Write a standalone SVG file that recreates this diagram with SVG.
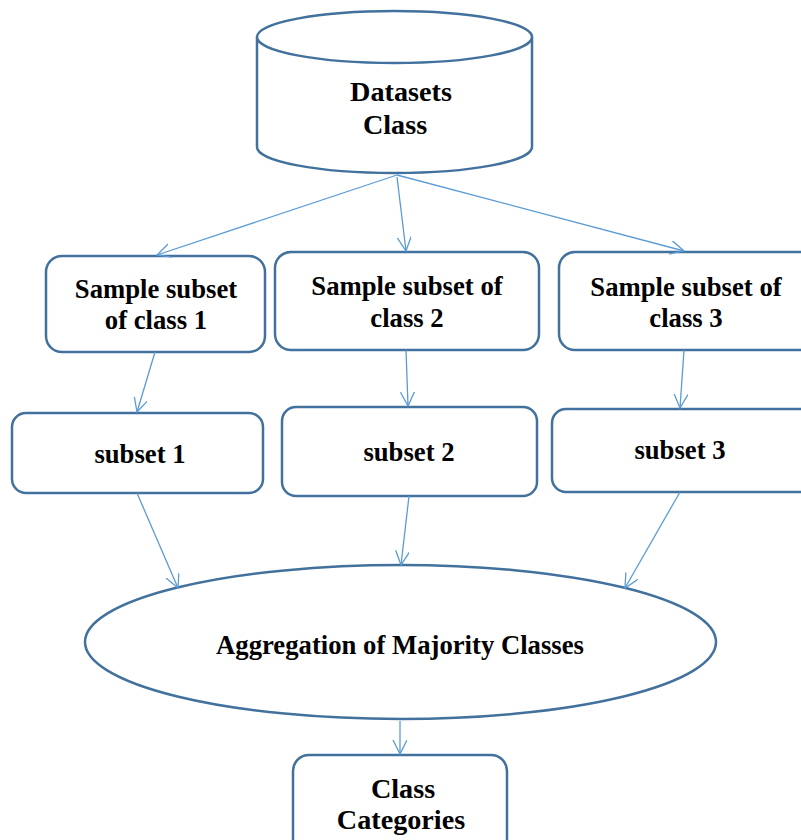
<svg xmlns="http://www.w3.org/2000/svg" width="801" height="840" viewBox="0 0 801 840">
<style>
.n{fill:#fff;stroke:#41719c;stroke-width:2.5}
.t{font-family:"Liberation Serif","Times New Roman",serif;font-weight:bold;font-size:26.7px;fill:#000;text-anchor:middle}
.b{font-size:28.2px}
.c{stroke:#5b9bd5;stroke-width:1.3;fill:none;marker-end:url(#ah)}
</style>
<defs>
<marker id="ah" markerUnits="userSpaceOnUse" markerWidth="20" markerHeight="20" refX="14" refY="7" orient="auto" viewBox="0 0 20 20">
<path d="M0,0 L14,7 L0,14" fill="none" stroke="#5b9bd5" stroke-width="1.3"/>
</marker>
</defs>
<rect width="801" height="840" fill="#fff"/>
<g id="datasets">
<path class="n" d="M257,37 L257,147 A137.5,26 0 0 0 532,147 L532,37"/>
<ellipse class="n" cx="394.5" cy="37" rx="137.5" ry="26"/>
<text class="t b" x="401" y="101">Datasets</text>
<text class="t b" x="395" y="134">Class</text>
</g>
<g id="sample1">
<rect class="n" x="46" y="256" width="219" height="96" rx="16"/>
<text class="t" x="156" y="298">Sample subset</text>
<text class="t" x="156" y="329">of class 1</text>
</g>
<g id="sample2">
<rect class="n" x="275" y="252" width="264" height="98" rx="16"/>
<text class="t" x="407" y="295">Sample subset of</text>
<text class="t" x="407" y="327">class 2</text>
</g>
<g id="sample3">
<rect class="n" x="559" y="252" width="260" height="98" rx="16"/>
<text class="t" x="686" y="296">Sample subset of</text>
<text class="t" x="686" y="327">class 3</text>
</g>
<g id="subset1">
<rect class="n" x="12" y="413" width="251" height="80" rx="14"/>
<text class="t" x="140" y="463">subset 1</text>
</g>
<g id="subset2">
<rect class="n" x="282" y="407" width="255" height="89" rx="14"/>
<text class="t" x="409" y="461">subset 2</text>
</g>
<g id="subset3">
<rect class="n" x="552" y="409" width="270" height="83" rx="14"/>
<text class="t" x="680" y="459">subset 3</text>
</g>
<g id="aggregation">
<ellipse class="n" cx="400.5" cy="642" rx="315.5" ry="77"/>
<text class="t" x="400" y="654">Aggregation of Majority Classes</text>
</g>
<g id="categories">
<rect class="n" x="293" y="755" width="214" height="110" rx="16"/>
<text class="t b" x="403" y="798">Class</text>
<text class="t b" x="401" y="829">Categories</text>
</g>
<g id="connectors">
<line class="c" x1="397" y1="175" x2="157" y2="255"/>
<line class="c" x1="397" y1="177" x2="406" y2="251"/>
<line class="c" x1="397" y1="175" x2="684" y2="251"/>
<line class="c" x1="155" y1="352" x2="137" y2="412"/>
<line class="c" x1="406" y1="350" x2="408" y2="406"/>
<line class="c" x1="684" y1="350" x2="680" y2="408"/>
<line class="c" x1="137" y1="493" x2="178" y2="588"/>
<line class="c" x1="409" y1="496" x2="401" y2="565"/>
<line class="c" x1="680" y1="492" x2="625" y2="588"/>
<line class="c" x1="400" y1="721" x2="400" y2="754"/>
</g>
</svg>
